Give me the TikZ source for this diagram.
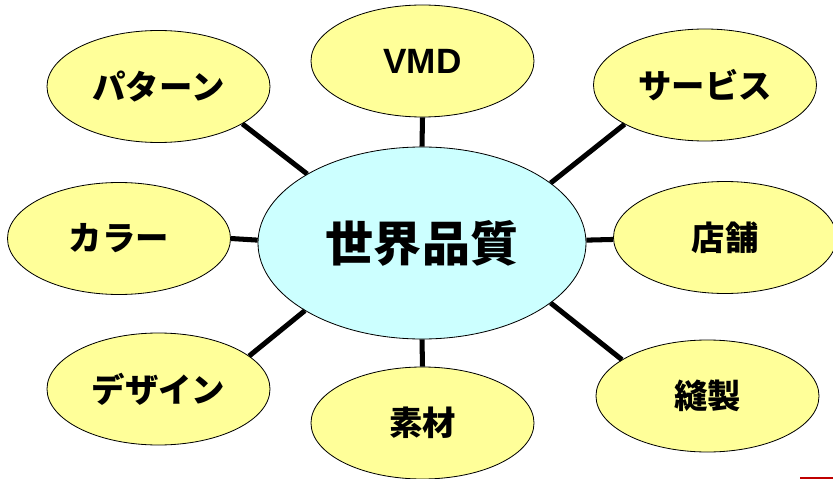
\documentclass[tikz,border=0pt]{standalone}
\usepackage{fontspec}
\usetikzlibrary{shapes.geometric}
\newfontfamily\jp{Noto Sans CJK JP}
\newfontfamily\lsans{Liberation Sans}
\definecolor{leafyellow}{HTML}{FFFF99}
\definecolor{hubcyan}{HTML}{CCFFFF}
\definecolor{edgered}{HTML}{C00000}
\tikzset{
  leaf/.style={ellipse, draw=black, line width=0.7pt, fill=leafyellow, inner sep=0pt,
    minimum width=6.69cm, minimum height=3.36cm, font=\jp\bfseries\fontsize{28.5}{32}\selectfont},
  hub/.style={ellipse, draw=black, line width=0.7pt, fill=hubcyan, inner sep=0pt,
    minimum width=9.84cm, minimum height=5.76cm, font=\jp\bfseries\fontsize{41}{46}\selectfont},
  link/.style={line width=4.3pt, black}
}
\begin{document}
\begin{tikzpicture}[x=0.03cm, y=-0.03cm]
\useasboundingbox (0,0) rectangle (833,479);
\node[hub] (hub) at (422,243) {世界品質};
\node[leaf] (vmd) at (422.5,61) {\lsans\bfseries\fontsize{30}{34}\selectfont VMD};
\node[leaf] (pattern) at (158.5,86.5) {パターン};
\node[leaf] (service) at (705,85) {サービス};
\node[leaf] (color) at (119,238.5) {カラー};
\node[leaf] (store) at (725,237.5) {店舗};
\node[leaf] (design) at (158.5,389) {デザイン};
\node[leaf] (material) at (422.5,423) {素材};
\node[leaf] (sewing) at (707.5,396) {縫製};
\draw[link] (hub.90) -- (vmd.-90);
\draw[link] (hub.149.3) -- (pattern.-24.1);
\draw[link] (hub.25.3) -- (service.-154);
\draw[link] (hub.179) -- (color.-0.8);
\draw[link] (hub.1) -- (store.181.3);
\draw[link] (hub.210.4) -- (design.20.8);
\draw[link] (hub.-90) -- (material.90);
\draw[link] (hub.-25.3) -- (sewing.157.7);
\fill[edgered] (800,477) rectangle (833,479);
\end{tikzpicture}
\end{document}
